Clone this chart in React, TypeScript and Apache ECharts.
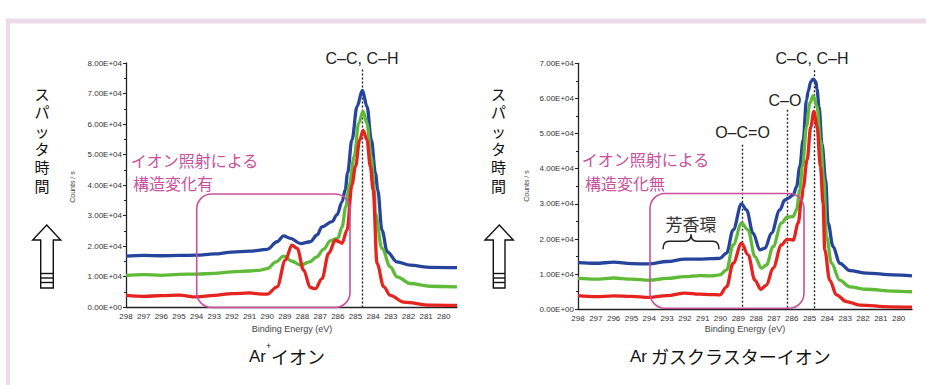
import React, { useEffect, useRef } from "react";
import * as echarts from "echarts";

// ---- Data (binding energy eV, counts/s) ----
const xTicks = [298, 297, 296, 295, 294, 293, 292, 291, 290, 289, 288, 287, 286, 285, 284, 283, 282, 281, 280];

// Left panel: Ar+ ion
const arBlue: [number, number][] = [
  [298, 16700], [297, 16900], [296, 16800], [295, 16900], [294, 17000], [293, 17400], [292, 18000],
  [291, 18300], [290, 18900], [289.44, 21400], [289.07, 23300], [288.69, 22500], [288.1, 20800],
  [287.56, 21400], [287.18, 23600], [286.9, 26300], [286.33, 28000], [286.05, 30200], [285.76, 34500],
  [285.58, 38400], [285.45, 43900], [285.2, 54800], [284.91, 65800], [284.61, 71000], [284.35, 65800],
  [284.1, 54800], [283.87, 43900], [283.74, 38400], [283.5, 25200], [283.2, 18100], [282.65, 14800],
  [281.9, 13700], [280.76, 13000], [279.25, 12900],
];
const arGreen: [number, number][] = [
  [298, 10400], [297, 10600], [296, 10400], [295, 10700], [294, 10800], [293, 11000], [292, 11500],
  [291, 11800], [290.5, 12000], [290, 12600], [289.5, 14800], [289.07, 16700], [288.6, 15000],
  [288.1, 13700], [287.6, 14800], [287.2, 16400], [286.8, 19000], [286.43, 21700], [286, 22500],
  [285.76, 26300], [285.55, 32900], [285.35, 40000], [285.07, 49400], [284.82, 60300], [284.57, 64100],
  [284.35, 60300], [284.12, 49400], [283.93, 38400], [283.88, 30700], [283.5, 19200], [283.03, 13200],
  [282.65, 9900], [281.9, 7700], [280.76, 6800], [279.25, 6600],
];
const arRed: [number, number][] = [
  [298, 3800], [297, 3500], [296, 3700], [295, 3900], [294, 3300], [293, 3800], [292, 4400],
  [291, 4600], [290.5, 4300], [290, 4200], [289.44, 6600], [288.97, 15400], [288.6, 20300],
  [288.3, 19200], [287.94, 12100], [287.56, 6400], [287.27, 6000], [286.9, 9300], [286.52, 17600],
  [286.14, 21900], [285.95, 21400], [285.76, 20900], [285.48, 25200], [285.2, 40000], [285, 46100],
  [284.76, 54800], [284.57, 57900], [284.35, 54800], [284.16, 46100], [284, 38400], [283.78, 14300],
  [283.4, 6600], [283.03, 3800], [282.27, 1600], [280.76, 600], [279.25, 500],
];

// Right panel: Ar gas cluster ion
const gcBlue: [number, number][] = [
  [298, 13300], [297, 13100], [296, 13400], [295, 13000], [294, 12900], [293, 13600], [292, 14300],
  [291.16, 14300], [290.5, 14400], [290.04, 14500], [289.66, 16000], [289.29, 22600], [288.82, 30000],
  [288.54, 28300], [288.17, 21600], [287.79, 16900], [287.5, 17400], [287.14, 21700], [286.67, 28300],
  [286.39, 31100], [286.2, 31600], [285.92, 32600], [285.73, 34900], [285.55, 40600], [285.36, 48200],
  [285.17, 59600], [285.08, 62000], [284.93, 64800], [284.8, 65500], [284.65, 64800], [284.58, 62500],
  [284.47, 57700], [284.3, 47000], [284.1, 37000], [283.96, 24500], [283.68, 17800], [283.31, 13100],
  [282.74, 11000], [281.81, 10300], [280.31, 9800], [279.25, 9500],
];
const gcGreen: [number, number][] = [
  [298, 8800], [297, 8600], [296, 8900], [295, 8600], [294, 8300], [293, 8800], [292, 9300],
  [291.16, 9600], [290.5, 9500], [290.04, 9800], [289.66, 11200], [289.29, 18300], [288.82, 24500],
  [288.45, 22600], [288.07, 15000], [287.7, 11700], [287.42, 12600], [287.05, 17800], [286.58, 24500],
  [286.26, 26200], [285.92, 26400], [285.73, 28300], [285.55, 34000], [285.4, 40600], [285.17, 52000],
  [284.98, 58700], [284.8, 60800], [284.58, 57700], [284.39, 48200], [284.2, 36800], [284.05, 20700],
  [283.77, 13100], [283.31, 8300], [282.74, 6400], [281.81, 5700], [280.31, 5200], [279.25, 5000],
];
const gcRed: [number, number][] = [
  [298, 3900], [297, 3600], [296, 3800], [295, 3700], [294, 3400], [293, 3900], [292, 4600],
  [291.16, 4300], [290.5, 4200], [290.04, 4100], [289.66, 6400], [289.29, 13100], [288.82, 18800],
  [288.45, 15500], [288.07, 8300], [287.74, 5700], [287.42, 6900], [287.05, 11700], [286.58, 18300],
  [286.26, 19900], [285.92, 19700], [285.64, 24500], [285.45, 31100], [285.36, 34500], [285.14, 42500],
  [284.93, 52000], [284.76, 56300], [284.58, 52000], [284.39, 40600], [284.24, 30000], [284.15, 16900],
  [283.87, 8300], [283.49, 4100], [282.93, 2200], [282.18, 1200], [280.5, 700], [279.25, 600],
];

// Peak marker lines: [energy, top value]
const leftPeaks: [number, number][] = [[284.61, 77900]];
const rightPeaks: [number, number][] = [[284.76, 68000], [286.26, 56800], [288.76, 46800]];

const sputterChars = ["ス", "パ", "ッ", "タ", "時", "間"];

const BLUE = "#27449c";
const GREEN = "#5fba37";
const RED = "#e5231f";
const PINK = "#c9509c";
const LATIN = "'Liberation Sans', Arial, sans-serif";
const CJK = "'Noto Sans CJK JP', sans-serif";

echarts.graphic.registerShape(
  "brace",
  echarts.graphic.extendPath("M0,15 Q0,7 6,7 L22,7 Q28,7 28,0 Q28,7 34,7 L50,7 Q56,7 56,15", {})
);

const fmtY = (v: number) => (v === 0 ? "0.00E+00" : (v / 10000).toFixed(2) + "E+04");

function xAxisCfg(gridIndex: number) {
  return {
    type: "value",
    gridIndex,
    min: 279.25,
    max: 298,
    inverse: true,
    axisLine: { show: true, onZero: false, lineStyle: { color: "#222", width: 1.3 } },
    axisTick: { show: false },
    splitLine: { show: false },
    axisLabel: {
      show: true,
      customValues: xTicks,
      margin: 5,
      fontSize: 8,
      fontFamily: LATIN,
      color: "#333",
    },
  };
}

function yAxisCfg(gridIndex: number, max: number) {
  return {
    type: "value",
    gridIndex,
    min: 0,
    max,
    interval: 10000,
    axisLine: { show: true, lineStyle: { color: "#222", width: 1.3 } },
    axisTick: { show: true, length: 3, lineStyle: { color: "#222" } },
    minorTick: { show: true, splitNumber: 2, length: 2, lineStyle: { color: "#222" } },
    splitLine: { show: false },
    minorSplitLine: { show: false },
    axisLabel: { formatter: fmtY, margin: 4, fontSize: 8, fontFamily: LATIN, color: "#333" },
  };
}

function lineSeries(data: [number, number][], color: string, idx: number, peaks?: [number, number][]) {
  const s: any = {
    type: "line",
    xAxisIndex: idx,
    yAxisIndex: idx,
    data,
    showSymbol: false,
    symbol: "none",
    smooth: 0.35,
    smoothMonotone: "x",
    lineStyle: { color, width: 3.3 },
    z: 3,
  };
  if (peaks) {
    s.markLine = {
      silent: true,
      symbol: "none",
      label: { show: false },
      lineStyle: { color: "#222", type: [2, 2], width: 1.4 },
      data: peaks.map(([e, top]) => [{ coord: [e, top] }, { coord: [e, 0] }]),
      z: 2,
    };
  }
  return s;
}

function arrow(cx: number, headL: number, headR: number, shL: number, shR: number) {
  return [
    {
      type: "polygon",
      shape: {
        points: [[cx, 225], [headR, 240], [shR, 240], [shR, 288], [shL, 288], [shL, 240], [headL, 240]],
      },
      style: { fill: "#fff", stroke: "#111", lineWidth: 1.4 },
    },
    { type: "line", shape: { x1: shL, y1: 273.5, x2: shR, y2: 273.5 }, style: { stroke: "#111", lineWidth: 1.4 } },
    { type: "line", shape: { x1: shL, y1: 278, x2: shR, y2: 278 }, style: { stroke: "#111", lineWidth: 1.4 } },
    { type: "line", shape: { x1: shL, y1: 282.5, x2: shR, y2: 282.5 }, style: { stroke: "#111", lineWidth: 1.4 } },
  ];
}

function txt(x: number, y: number, text: string, opts: any = {}) {
  return {
    type: "text",
    x,
    y,
    style: {
      text,
      fontSize: 16,
      fontFamily: LATIN,
      fill: "#222",
      align: "center",
      verticalAlign: "middle",
      ...opts,
    },
    z: 10,
  };
}

function verticalText(cx: number) {
  return sputterChars.map((c, i) =>
    txt(cx, 93.5 + i * 18.3, c, { fontFamily: CJK, fontSize: 15, fill: "#111" })
  );
}

export default function App() {
  const ref = useRef<HTMLDivElement>(null);
  useEffect(() => {
    if (!ref.current) return;
    const chart = echarts.init(ref.current, undefined, { renderer: "svg" });
    chart.setOption({
      animation: false,
      backgroundColor: "#fff",
      grid: [
        { left: 126, top: 63, width: 331, height: 244 },
        { left: 578, top: 63.3, width: 334, height: 246 },
      ],
      xAxis: [xAxisCfg(0), xAxisCfg(1)],
      yAxis: [yAxisCfg(0, 80000), yAxisCfg(1, 70000)],
      series: [
        lineSeries(arBlue, BLUE, 0, leftPeaks),
        lineSeries(arGreen, GREEN, 0),
        lineSeries(arRed, RED, 0),
        lineSeries(gcBlue, BLUE, 1, rightPeaks),
        lineSeries(gcGreen, GREEN, 1),
        lineSeries(gcRed, RED, 1),
      ],
      graphic: [
        // outer frame
        { type: "line", shape: { x1: 6, y1: 21, x2: 930, y2: 21 }, style: { stroke: "#efdbe8", lineWidth: 5 }, z: 0 },
        { type: "line", shape: { x1: 8, y1: 19, x2: 8, y2: 390 }, style: { stroke: "#efdbe8", lineWidth: 4 }, z: 0 },
        // pink boxes
        { type: "rect", shape: { x: 196.7, y: 194, width: 153.3, height: 113.5, r: 15 }, style: { fill: "none", stroke: PINK, lineWidth: 1.6 }, z: 5 },
        { type: "rect", shape: { x: 650, y: 193.5, width: 154, height: 114.8, r: 15 }, style: { fill: "none", stroke: PINK, lineWidth: 1.6 }, z: 5 },
        // pink notes
        txt(130.7, 160, "イオン照射による", { fontFamily: CJK, fill: PINK, align: "left" }),
        txt(133, 183.3, "構造変化有", { fontFamily: CJK, fill: PINK, align: "left" }),
        txt(581.7, 159.3, "イオン照射による", { fontFamily: CJK, fill: PINK, align: "left" }),
        txt(585, 183.3, "構造変化無", { fontFamily: CJK, fill: PINK, align: "left" }),
        // peak labels
        txt(362, 58.3, "C–C, C–H"),
        txt(812, 58.3, "C–C, C–H"),
        txt(785, 100.7, "C–O"),
        txt(742.5, 132.3, "O–C=O"),
        // aromatic ring
        txt(691, 223.3, "芳香環", { fontFamily: CJK, fontSize: 17, fill: "#333" }),
        { type: "brace", x: 663, y: 234.3, shape: {}, style: { fill: "none", stroke: "#222", lineWidth: 1.5 }, z: 10 },
        // sputter time vertical texts
        ...verticalText(42),
        ...verticalText(498.5),
        ...arrow(46.7, 32.7, 60.7, 40.7, 53.3),
        ...arrow(499.3, 485, 513.3, 493.3, 505),
        // axis names
        { type: "text", x: 72, y: 187, rotation: Math.PI / 2, style: { text: "Counts / s", fontSize: 7, fontFamily: LATIN, fill: "#444", align: "center", verticalAlign: "middle" } },
        { type: "text", x: 526.7, y: 186, rotation: Math.PI / 2, style: { text: "Counts / s", fontSize: 7, fontFamily: LATIN, fill: "#444", align: "center", verticalAlign: "middle" } },
        txt(292, 329, "Binding Energy (eV)", { fontSize: 9, fill: "#444" }),
        txt(745, 329, "Binding Energy (eV)", { fontSize: 9, fill: "#444" }),
        // titles
        txt(266, 356, "Ar", { fontSize: 17, align: "right", fill: "#111" }),
        txt(268.5, 346, "+", { fontSize: 9, fill: "#111" }),
        txt(271, 356, "イオン", { fontFamily: CJK, fontSize: 18, align: "left", fill: "#111" }),
        txt(647, 356, "Ar", { fontSize: 17, align: "right", fill: "#111" }),
        txt(651, 356, "ガスクラスターイオン", { fontFamily: CJK, fontSize: 18, align: "left", fill: "#111" }),
      ],
    });
    return () => chart.dispose();
  }, []);
  return <div ref={ref} style={{ position: "fixed", left: 0, top: 0, width: 926, height: 385 }} />;
}
